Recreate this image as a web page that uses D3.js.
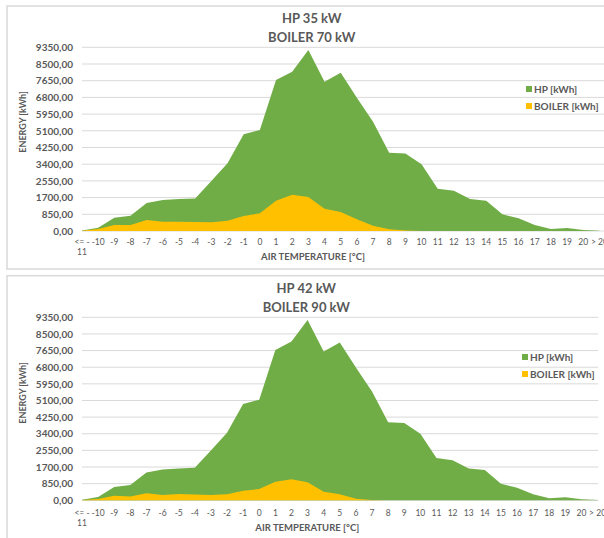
<!DOCTYPE html>
<html>
<head>
<meta charset="utf-8">
<script src="https://cdn.jsdelivr.net/npm/d3@7"></script>
<style>
  body { margin: 0; background: #fff; }
  svg { display: block; }
  text { font-family: Lato, "Open Sans", sans-serif; fill: #595959; }
</style>
</head>
<body>
<svg id="chart" width="604" height="538"></svg>
<script>
// Outdoor air temperature bins
const categories = ["<= -11", "-10", "-9", "-8", "-7", "-6", "-5", "-4", "-3", "-2", "-1", "0",
  "1", "2", "3", "4", "5", "6", "7", "8", "9", "10", "11", "12", "13", "14", "15", "16",
  "17", "18", "19", "20", "> 20"];

// Heat pump energy per temperature bin [kWh]
const hpEnergy = [30, 170, 680, 780, 1425, 1580, 1630, 1660, 2545, 3445, 4920, 5140,
  7680, 8110, 9210, 7600, 8060, 6780, 5560, 3985, 3950, 3395, 2155, 2050, 1630, 1545,
  850, 645, 305, 100, 150, 50, 15];

// Boiler energy with the 70 kW boiler [kWh]
const boiler70 = [15, 100, 305, 305, 560, 475, 475, 460, 440, 525, 765, 900,
  1545, 1840, 1730, 1135, 965, 595, 270, 85, 20, 5, 0, 0, 0, 0, 0, 0, 0, 0, 0, 0, 0];

// Boiler energy with the 90 kW boiler [kWh]
const boiler90 = [10, 65, 235, 200, 355, 270, 320, 290, 270, 305, 490, 575,
  950, 1070, 920, 440, 305, 80, 15, 0, 0, 0, 0, 0, 0, 0, 0, 0, 0, 0, 0, 0, 0];

const yTickValues = [0, 850, 1700, 2550, 3400, 4250, 5100, 5950, 6800, 7650, 8500, 9350];

const seriesNames = ["HP [kWh]", "BOILER [kWh]"];
const colors = { hp: "#70ad47", boiler: "#ffc000", grid: "#d9d9d9", frame: "#d9d9d9" };

const panels = [
  {
    titles: ["HP 35 kW", "BOILER 70 kW"], hp: hpEnergy, boiler: boiler70,
    frame: { x: 7, y: 6, w: 620, h: 263 },
    titleX: 311.7, titleY: [23, 42],
    plot: { left: 82, right: 599.4, top: 47.3, bottom: 231, gridRight: 604 },
    tickY: 244.5, axisTitleY: 259.5, axisTitleX: 313,
    yTitle: { x: 26, y: 122 },
    legend: { x: 526, y: [89, 106] }
  },
  {
    titles: ["HP 42 kW", "BOILER 90 kW"], hp: hpEnergy, boiler: boiler90,
    frame: { x: 7, y: 275.7, w: 598, h: 270 },
    titleX: 306.3, titleY: [292.5, 311.5],
    plot: { left: 82, right: 597.6, top: 317.3, bottom: 500.3, gridRight: 598.3 },
    tickY: 515.5, axisTitleY: 530.7, axisTitleX: 307.3,
    yTitle: { x: 26, y: 393 },
    legend: { x: 522, y: [357, 374] }
  }
];

const svg = d3.select("#chart");
const fmt = v => d3.format(".2f")(v).replace(".", ",");

panels.forEach(p => {
  const g = svg.append("g");

  g.append("rect")
    .attr("x", p.frame.x).attr("y", p.frame.y)
    .attr("width", p.frame.w).attr("height", p.frame.h)
    .attr("fill", "#fff").attr("stroke", colors.frame).attr("stroke-width", 1.5);

  const x = d3.scalePoint().domain(categories).range([p.plot.left, p.plot.right]);
  const y = d3.scaleLinear().domain([0, 9350]).range([p.plot.bottom, p.plot.top]);

  // horizontal gridlines
  g.append("g").selectAll("line").data(yTickValues).join("line")
    .attr("x1", p.plot.left).attr("x2", p.plot.gridRight)
    .attr("y1", d => y(d)).attr("y2", d => y(d))
    .attr("stroke", colors.grid).attr("stroke-width", 1);

  // y axis labels
  const yAxis = d3.axisLeft(y).tickValues(yTickValues).tickFormat(fmt).tickSize(0).tickPadding(0);
  const ya = g.append("g").attr("transform", `translate(${p.plot.left - 9},0)`).call(yAxis);
  ya.select(".domain").remove();
  ya.selectAll("text")
    .attr("font-size", 10).attr("font-weight", "bold").attr("fill", "#595959")
    .style("font-family", "Lato, sans-serif");

  // areas: heat pump behind, boiler in front
  const area = vals => d3.area()
    .x((d, i) => x(categories[i]))
    .y0(y(0))
    .y1(d => y(d))(vals);

  g.append("path").attr("d", area(p.hp)).attr("fill", colors.hp);
  g.append("path").attr("d", area(p.boiler)).attr("fill", colors.boiler);

  // x axis labels
  const xa = g.append("g");
  categories.forEach(c => {
    const t = xa.append("text")
      .attr("x", x(c)).attr("y", p.tickY)
      .attr("text-anchor", "middle")
      .attr("font-size", 8.5).attr("fill", "#595959");
    if (c.startsWith("<= -")) {
      t.append("tspan").attr("x", x(c)).attr("dy", 0).text("<= -");
      t.append("tspan").attr("x", x(c)).attr("dy", 10).text(c.slice(4));
    } else {
      t.text(c);
    }
  });

  // titles
  p.titles.forEach((s, i) => {
    g.append("text").attr("x", p.titleX).attr("y", p.titleY[i])
      .attr("text-anchor", "middle").attr("font-size", 13).attr("font-weight", "bold")
      .text(s);
  });

  g.append("text").attr("x", p.axisTitleX).attr("y", p.axisTitleY)
    .attr("text-anchor", "middle").attr("font-size", 9.5).attr("font-weight", "bold")
    .text("AIR TEMPERATURE [°C]");

  g.append("text")
    .attr("transform", `translate(${p.yTitle.x},${p.yTitle.y}) rotate(-90)`)
    .attr("text-anchor", "middle").attr("font-size", 9).attr("font-weight", "bold")
    .text("ENERGY [kWh]");

  // legend
  [colors.hp, colors.boiler].forEach((col, i) => {
    g.append("rect").attr("x", p.legend.x).attr("y", p.legend.y[i] - 3)
      .attr("width", 6).attr("height", 6).attr("fill", col);
    g.append("text").attr("x", p.legend.x + 8).attr("y", p.legend.y[i] + 3.5)
      .attr("font-size", 10).attr("font-weight", "bold")
      .text(seriesNames[i]);
  });
});
</script>
</body>
</html>
